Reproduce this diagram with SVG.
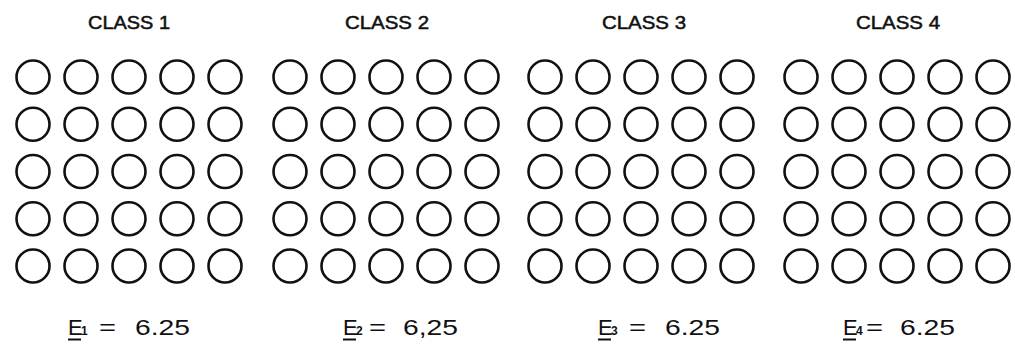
<svg xmlns="http://www.w3.org/2000/svg" width="1015" height="347" viewBox="0 0 1015 347">
<style>
.bg{fill:#fff}
circle{fill:none;stroke:#111;stroke-width:2.6}
.t{font-family:"Liberation Sans",Arial,sans-serif;fill:#111}
.cls{font-size:18px;text-anchor:middle;stroke:#111;stroke-width:0.5}
.big{font-size:22px}
.sub{font-size:12px;font-weight:bold}
.ul{stroke:#111;stroke-width:2}
</style>
<defs>
<g id="row">
<circle cx="0" cy="0" r="16.5"/><circle cx="48" cy="0" r="16.5"/><circle cx="96" cy="0" r="16.5"/><circle cx="144" cy="0" r="16.5"/><circle cx="192" cy="0" r="16.5"/>
</g>
<g id="grid">
<use href="#row" y="77"/><use href="#row" y="124.25"/><use href="#row" y="171.5"/><use href="#row" y="218.75"/><use href="#row" y="266"/>
</g>
</defs>
<rect class="bg" x="0" y="0" width="1015" height="347"/>
<g id="class1">
<text class="t cls" x="129" y="29" textLength="82" lengthAdjust="spacingAndGlyphs">CLASS 1</text>
<use href="#grid" x="33"/>
<text class="t big" x="68" y="335">E</text><line class="ul" x1="68" y1="339.5" x2="81" y2="339.5"/>
<text class="t sub" x="81" y="335">1</text>
<text class="t big" x="99" y="335" textLength="17" lengthAdjust="spacingAndGlyphs">=</text>
<text class="t big" x="135" y="335" textLength="55" lengthAdjust="spacingAndGlyphs">6.25</text>
</g>
<g id="class2">
<text class="t cls" x="387" y="29" textLength="84" lengthAdjust="spacingAndGlyphs">CLASS 2</text>
<use href="#grid" x="290"/>
<text class="t big" x="343" y="335">E</text><line class="ul" x1="343" y1="339.5" x2="356" y2="339.5"/>
<text class="t sub" x="356" y="335">2</text>
<text class="t big" x="369" y="335" textLength="17" lengthAdjust="spacingAndGlyphs">=</text>
<text class="t big" x="403" y="335" textLength="55" lengthAdjust="spacingAndGlyphs">6,25</text>
</g>
<g id="class3">
<text class="t cls" x="644" y="29" textLength="84" lengthAdjust="spacingAndGlyphs">CLASS 3</text>
<use href="#grid" x="545"/>
<text class="t big" x="598" y="335">E</text><line class="ul" x1="598" y1="339.5" x2="611" y2="339.5"/>
<text class="t sub" x="611" y="335">3</text>
<text class="t big" x="629" y="335" textLength="17" lengthAdjust="spacingAndGlyphs">=</text>
<text class="t big" x="665" y="335" textLength="55" lengthAdjust="spacingAndGlyphs">6.25</text>
</g>
<g id="class4">
<text class="t cls" x="898" y="29" textLength="84" lengthAdjust="spacingAndGlyphs">CLASS 4</text>
<use href="#grid" x="801"/>
<text class="t big" x="843" y="335">E</text><line class="ul" x1="843" y1="339.5" x2="856" y2="339.5"/>
<text class="t sub" x="856" y="335">4</text>
<text class="t big" x="866" y="335" textLength="17" lengthAdjust="spacingAndGlyphs">=</text>
<text class="t big" x="900" y="335" textLength="55" lengthAdjust="spacingAndGlyphs">6.25</text>
</g>
<g id="connectors"/>
</svg>
